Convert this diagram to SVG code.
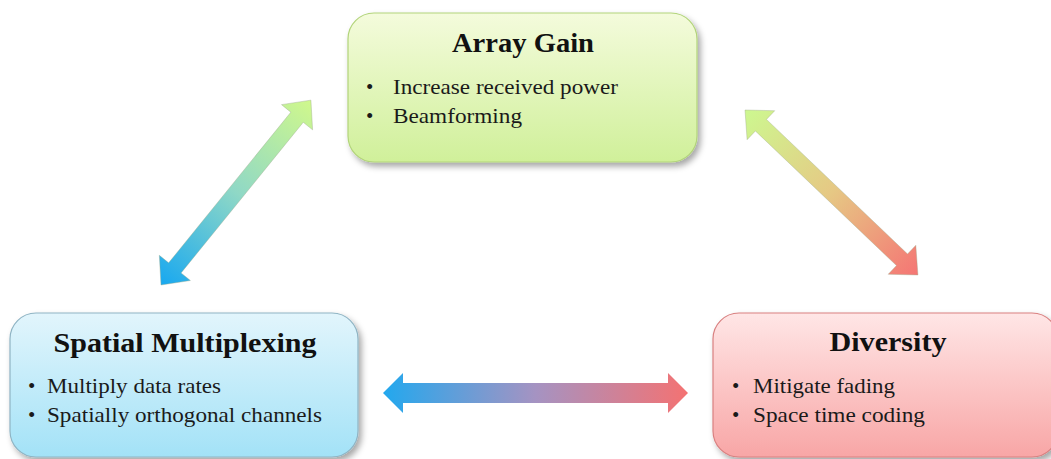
<svg xmlns="http://www.w3.org/2000/svg" width="1051" height="459" viewBox="0 0 1051 459">
<defs>
<linearGradient id="gGreen" x1="0" y1="0" x2="0" y2="1"><stop offset="0" stop-color="#f4fbdc"/><stop offset="1" stop-color="#d0f09a"/></linearGradient>
<linearGradient id="gBlue" x1="0" y1="0" x2="0" y2="1"><stop offset="0" stop-color="#e2f5fc"/><stop offset="1" stop-color="#a3e2f7"/></linearGradient>
<linearGradient id="gRed" x1="0" y1="0" x2="0" y2="1"><stop offset="0" stop-color="#ffe6e6"/><stop offset="1" stop-color="#f8a6a6"/></linearGradient>
<linearGradient id="aBG" x1="0" y1="0" x2="1" y2="0"><stop offset="0" stop-color="#18a8f0"/><stop offset="0.5" stop-color="#8fd8c6"/><stop offset="1" stop-color="#d0f88c"/></linearGradient>
<linearGradient id="aGR" x1="0" y1="0" x2="1" y2="0"><stop offset="0" stop-color="#cdf890"/><stop offset="0.5" stop-color="#e6c884"/><stop offset="1" stop-color="#f57574"/></linearGradient>
<linearGradient id="aBR" x1="0" y1="0" x2="1" y2="0"><stop offset="0" stop-color="#22a8ee"/><stop offset="0.5" stop-color="#a593c2"/><stop offset="1" stop-color="#f47272"/></linearGradient>
<filter id="sh" x="-10%" y="-10%" width="125%" height="130%"><feDropShadow dx="3" dy="4" stdDeviation="3" flood-color="#000" flood-opacity="0.35"/></filter>
</defs>
<style>
.title{font-family:"Liberation Serif",serif;font-weight:bold;font-size:27px;fill:#111;text-anchor:middle}
.item{font-family:"Liberation Serif",serif;font-size:21px;fill:#1a1a1a}
.arrow{stroke:#9aa88a;stroke-opacity:0.45;stroke-width:0.8}
</style>
<g id="connectors">
<polygon class="arrow" fill="url(#aBG)" transform="translate(161,285) rotate(-50.96)" points="0,0 22,-20 22,-8 216,-8 216,-20 238,0 216,20 216,8 22,8 22,20"/>
<polygon class="arrow" fill="url(#aGR)" transform="translate(745,110) rotate(43.65)" points="0,0 22,-20 22,-8 217,-8 217,-20 239,0 217,20 217,8 22,8 22,20"/>
<polygon fill="url(#aBR)" transform="translate(383,393)" points="0,0 20,-20 20,-10 285,-10 285,-20 305,0 285,20 285,10 20,10 20,20"/>
</g>
<g id="array-gain">
<rect x="348" y="13" width="349" height="149" rx="26" fill="url(#gGreen)" stroke="#b2d47a" stroke-width="1.2" filter="url(#sh)"/>
<text class="title" x="523" y="52" textLength="142" lengthAdjust="spacingAndGlyphs">Array Gain</text>
<text class="item" x="366" y="94">•</text>
<text class="item" x="393" y="94" textLength="225" lengthAdjust="spacingAndGlyphs">Increase received power</text>
<text class="item" x="366" y="123">•</text>
<text class="item" x="393" y="123" textLength="129" lengthAdjust="spacingAndGlyphs">Beamforming</text>
</g>
<g id="spatial-multiplexing">
<rect x="10" y="313" width="348" height="144" rx="26" fill="url(#gBlue)" stroke="#8fb4c4" stroke-width="1.2" filter="url(#sh)"/>
<text class="title" x="185" y="352" textLength="263" lengthAdjust="spacingAndGlyphs">Spatial Multiplexing</text>
<text class="item" x="28" y="393">•</text>
<text class="item" x="47" y="393" textLength="174" lengthAdjust="spacingAndGlyphs">Multiply data rates</text>
<text class="item" x="28" y="422">•</text>
<text class="item" x="47" y="422" textLength="275" lengthAdjust="spacingAndGlyphs">Spatially orthogonal channels</text>
</g>
<g id="diversity">
<rect x="713" y="313" width="345" height="144" rx="26" fill="url(#gRed)" stroke="#d98080" stroke-width="1.2" filter="url(#sh)"/>
<text class="title" x="888" y="351" textLength="117" lengthAdjust="spacingAndGlyphs">Diversity</text>
<text class="item" x="732" y="393">•</text>
<text class="item" x="753" y="393" textLength="142" lengthAdjust="spacingAndGlyphs">Mitigate fading</text>
<text class="item" x="732" y="422">•</text>
<text class="item" x="753" y="422" textLength="172" lengthAdjust="spacingAndGlyphs">Space time coding</text>
</g>
</svg>
